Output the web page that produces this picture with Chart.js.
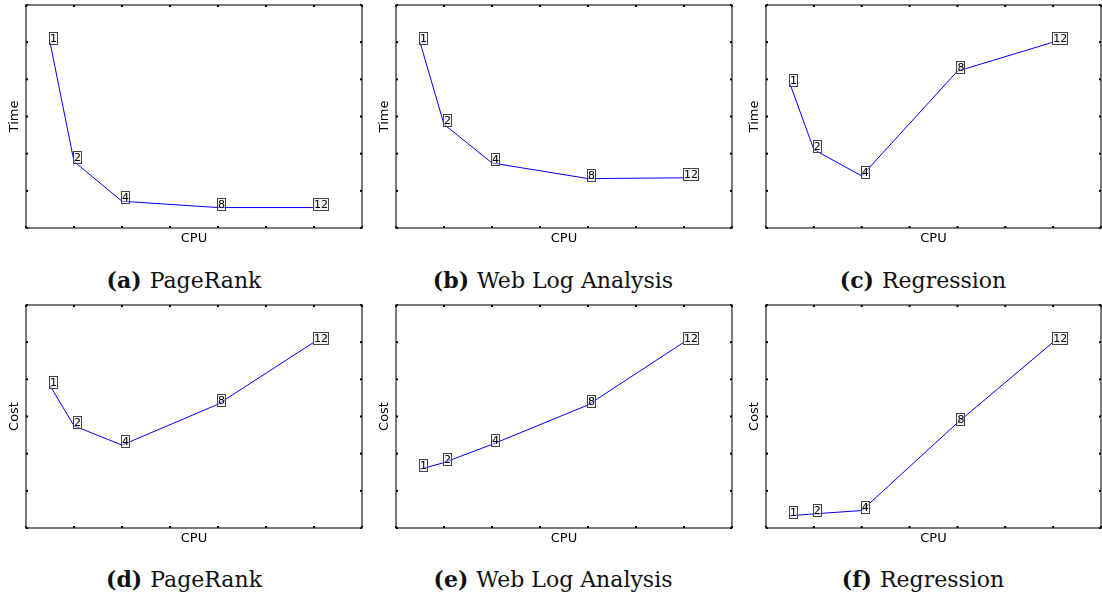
<!DOCTYPE html>
<html>
<head>
<meta charset="utf-8">
<script src="https://cdn.jsdelivr.net/npm/chart.js@4.4.0/dist/chart.umd.min.js"></script>
<style>
  body { margin: 0; background: #fff; width: 1102px; height: 598px; overflow: hidden; position: relative; }
  canvas { position: absolute; }
  .caption { position: absolute; font-family: "DejaVu Serif", serif; font-size: 22px; line-height: 22px; white-space: nowrap; transform: translateX(-50%); color: #111; }
  .caption b { margin-right: 8px; }
</style>
</head>
<body>
<script>
// cpu counts, used both as x value and as boxed label
const cpus = [1, 2, 4, 8, 12]

// values (axis units, no tick labels in the original)
const pageRankTime = [5.0, 1.79, 0.72, 0.55, 0.55]
const webLogTime = [5.0, 2.79, 1.75, 1.33, 1.35]
const regressionTime = [3.88, 2.11, 1.40, 4.22, 5.0]
const pageRankCost = [3.83, 2.75, 2.23, 3.33, 5.0]
const webLogCost = [1.58, 1.76, 2.25, 3.31, 5.0]
const regressionCost = [0.33, 0.38, 0.47, 2.83, 5.0]

const xRange = [0, 14]
const xStep = 2
const yRange = [0, 6]
const yStep = 1

const panels = [
  { id: 'a', name: 'PageRank', yLabel: 'Time', values: pageRankTime, left: 0, top: 0, w: 336, cap: 184 },
  { id: 'b', name: 'Web Log Analysis', yLabel: 'Time', values: webLogTime, left: 370, top: 0, w: 336, cap: 553 },
  { id: 'c', name: 'Regression', yLabel: 'Time', values: regressionTime, left: 740, top: 0, w: 335, cap: 923 },
  { id: 'd', name: 'PageRank', yLabel: 'Cost', values: pageRankCost, left: 0, top: 299.5, w: 336, cap: 184 },
  { id: 'e', name: 'Web Log Analysis', yLabel: 'Cost', values: webLogCost, left: 370, top: 299.5, w: 336, cap: 553 },
  { id: 'f', name: 'Regression', yLabel: 'Cost', values: regressionCost, left: 740, top: 299.5, w: 335, cap: 923 }
]

// frame on all four sides with tiny inward ticks
const frameTicks = {
  id: 'frameTicks',
  afterDraw: (chart) => {
    const ctx = chart.ctx
    const a = chart.chartArea
    const xs = chart.scales.x
    const ys = chart.scales.y
    ctx.save()
    ctx.strokeStyle = '#333'
    ctx.lineWidth = 1.3
    ctx.strokeRect(a.left, a.top, a.right - a.left, a.bottom - a.top)
    ctx.fillStyle = '#000'
    xs.ticks.forEach(t => {
      const px = xs.getPixelForValue(t.value)
      ctx.fillRect(px - 1, a.bottom - 2, 2, 2)
      ctx.fillRect(px - 1, a.top, 2, 2)
    })
    ys.ticks.forEach(t => {
      const py = ys.getPixelForValue(t.value)
      ctx.fillRect(a.left, py - 1, 2, 2)
      ctx.fillRect(a.right - 2, py - 1, 2, 2)
    })
    ctx.restore()
  }
}

// boxed cpu labels, left aligned on the point with baseline on it
const boxLabels = {
  id: 'boxLabels',
  afterDatasetsDraw: (chart) => {
    const ctx = chart.ctx
    const meta = chart.getDatasetMeta(0)
    ctx.save()
    ctx.font = '11px "DejaVu Sans"'
    ctx.textBaseline = 'alphabetic'
    ctx.textAlign = 'left'
    meta.data.forEach((pt, i) => {
      const txt = String(cpus[i])
      const w = ctx.measureText(txt).width
      ctx.fillStyle = 'rgba(235,235,235,0.45)'
      ctx.fillRect(pt.x - 1, pt.y - 10, w + 2, 12.5)
      ctx.strokeStyle = '#444'
      ctx.lineWidth = 1
      ctx.strokeRect(Math.round(pt.x - 1) + 0.5, Math.round(pt.y - 10) + 0.5, Math.round(w + 1), 12)
      ctx.fillStyle = '#000'
      ctx.fillText(txt, pt.x, pt.y)
    })
    ctx.restore()
  }
}

const renderPanel = (p) => {
  const canvas = document.createElement('canvas')
  canvas.width = 26 + p.w + 1
  canvas.height = 250
  canvas.style.left = p.left + 'px'
  canvas.style.top = p.top + 'px'
  document.body.appendChild(canvas)

  new Chart(canvas, {
    type: 'line',
    data: {
      datasets: [{
        data: cpus.map((c, i) => ({ x: c, y: p.values[i] })),
        borderColor: '#0000ff',
        borderWidth: 1,
        pointRadius: 0,
        tension: 0,
        fill: false
      }]
    },
    options: {
      responsive: false,
      animation: false,
      devicePixelRatio: 1,
      layout: { padding: { left: 0, top: 5, right: 1, bottom: 0 } },
      plugins: { legend: { display: false }, tooltip: { enabled: false } },
      scales: {
        x: {
          type: 'linear',
          min: xRange[0],
          max: xRange[1],
          ticks: { display: false, stepSize: xStep },
          grid: { display: false },
          border: { display: false },
          title: { display: true, text: 'CPU', color: '#000', font: { family: 'DejaVu Sans', size: 13 }, padding: { top: 0, bottom: 4 } },
          afterFit: (scale) => { scale.height = 22 }
        },
        y: {
          type: 'linear',
          min: yRange[0],
          max: yRange[1],
          ticks: { display: false, stepSize: yStep },
          grid: { display: false },
          border: { display: false },
          title: { display: true, text: p.yLabel, color: '#000', font: { family: 'DejaVu Sans', size: 13 }, padding: { top: 7, bottom: 0 } },
          afterFit: (scale) => { scale.width = 26 }
        }
      }
    },
    plugins: [boxLabels, frameTicks]
  })

  const cap = document.createElement('div')
  cap.className = 'caption'
  cap.style.left = p.cap + 'px'
  cap.style.top = (p.top + 268.5) + 'px'
  cap.innerHTML = '<b>(' + p.id + ')</b>' + p.name
  document.body.appendChild(cap)
}

panels.forEach(renderPanel)
</script>
</body>
</html>
